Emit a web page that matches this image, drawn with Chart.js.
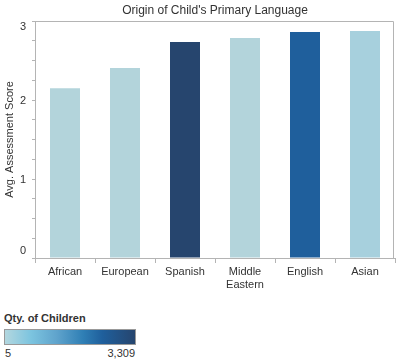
<!DOCTYPE html>
<html>
<head>
<meta charset="utf-8">
<script src="https://cdn.jsdelivr.net/npm/chart.js@4"></script>
<style>
  html, body { margin: 0; padding: 0; background: #fff; }
  body { width: 396px; height: 360px; position: relative; overflow: hidden; font-family: "Liberation Sans", Arial, sans-serif; }
  #wrap { position: absolute; left: 0; top: 0; width: 396px; height: 300px; }
  #legTitle { position: absolute; left: 4px; top: 312px; font-size: 11px; font-weight: bold; color: #333; }
  #legBar { position: absolute; left: 4px; top: 329px; width: 130px; height: 14px; border: 1px solid #999;
    background: linear-gradient(to right, #b3d7df 0%, #7cc4df 20%, #5fa3cc 40%, #2f7fb5 60%, #1f5f9c 75%, #26456e 100%); }
  #legMin { position: absolute; left: 5px; top: 347px; font-size: 11px; color: #333; }
  #legMax { position: absolute; left: 60px; width: 75px; text-align: right; top: 347px; font-size: 11px; color: #333; }
</style>
</head>
<body>
<div id="wrap"><canvas id="c"></canvas></div>
<div id="legTitle">Qty. of Children</div>
<div id="legBar"></div>
<div id="legMin">5</div>
<div id="legMax">3,309</div>
<script>
const categories = ['African', 'European', 'Spanish', 'Middle Eastern', 'English', 'Asian'];
const avgScores = [2.15, 2.405, 2.735, 2.785, 2.86, 2.875];
const barColors = ['#b3d4db', '#b3d4db', '#26456e', '#b3d4db', '#1f5f9c', '#a7d0dd'];
const yTickValues = [0, 1, 2, 3];
const yTickLabels = ['0', '1', '2', '3'];
const chartTitle = "Origin of Child's Primary Language";

const FONT = '"Liberation Sans", Arial, sans-serif';

const decor = {
  id: 'decor',
  afterDraw(chart) {
    const a = chart.chartArea, ctx = chart.ctx;
    const y = chart.scales.y;
    ctx.save();
    // frame top/right
    ctx.strokeStyle = '#b4b4b4';
    ctx.lineWidth = 1;
    ctx.beginPath();
    ctx.moveTo(a.left, a.top + 0.5);
    ctx.lineTo(a.right - 1.5, a.top + 0.5);
    ctx.lineTo(a.right - 1.5, a.bottom);
    ctx.stroke();
    // title centered over plot
    ctx.fillStyle = '#333';
    ctx.font = '12px ' + FONT;
    ctx.textAlign = 'center';
    ctx.textBaseline = 'middle';
    ctx.fillText(chartTitle, (a.left + a.right) / 2, 11);
    // y tick labels, kept inside the axis range like the reference
    ctx.font = '11px ' + FONT;
    ctx.textAlign = 'right';
    yTickValues.forEach((v, i) => {
      let py = y.getPixelForValue(v);
      if (v === y.max) py += 6;
      else if (v === y.min) py -= 7;
      else py += 0.5;
      ctx.fillText(yTickLabels[i], 26, py);
    });
    ctx.restore();
  }
};

Chart.defaults.font.family = FONT;
Chart.defaults.font.size = 11;
Chart.defaults.color = '#333';

new Chart(document.getElementById('c'), {
  type: 'bar',
  data: {
    labels: categories.map(c => c.includes(' ') ? c.split(' ') : c),
    datasets: [{
      data: avgScores,
      backgroundColor: barColors,
      categoryPercentage: 1,
      barPercentage: 0.5
    }]
  },
  options: {
    responsive: true,
    maintainAspectRatio: false,
    animation: false,
    layout: { padding: { left: 0, right: 1, top: 21, bottom: 0 } },
    plugins: {
      legend: { display: false },
      tooltip: { enabled: false },
      title: { display: false }
    },
    scales: {
      x: {
        grid: { display: true, drawOnChartArea: false, drawTicks: true, tickLength: 5, color: '#b4b4b4', offset: true },
        border: { display: true, color: '#b4b4b4' },
        ticks: { padding: 2, maxRotation: 0, autoSkip: false, color: '#333' },
        afterFit(s) { s.height = 42; }
      },
      y: {
        min: 0, max: 3,
        grid: { display: true, drawOnChartArea: false, drawTicks: true, tickLength: 3, color: '#b4b4b4' },
        border: { display: true, color: '#b4b4b4' },
        ticks: {
          stepSize: 0.25, autoSkip: false, padding: 6, color: 'rgba(0,0,0,0)',
          callback: v => ''
        },
        title: { display: true, text: 'Avg. Assessment Score', color: '#333', padding: { top: 3, bottom: 0 } },
        afterFit(s) { s.width = 35; }
      }
    }
  },
  plugins: [decor]
});
</script>
</body>
</html>
